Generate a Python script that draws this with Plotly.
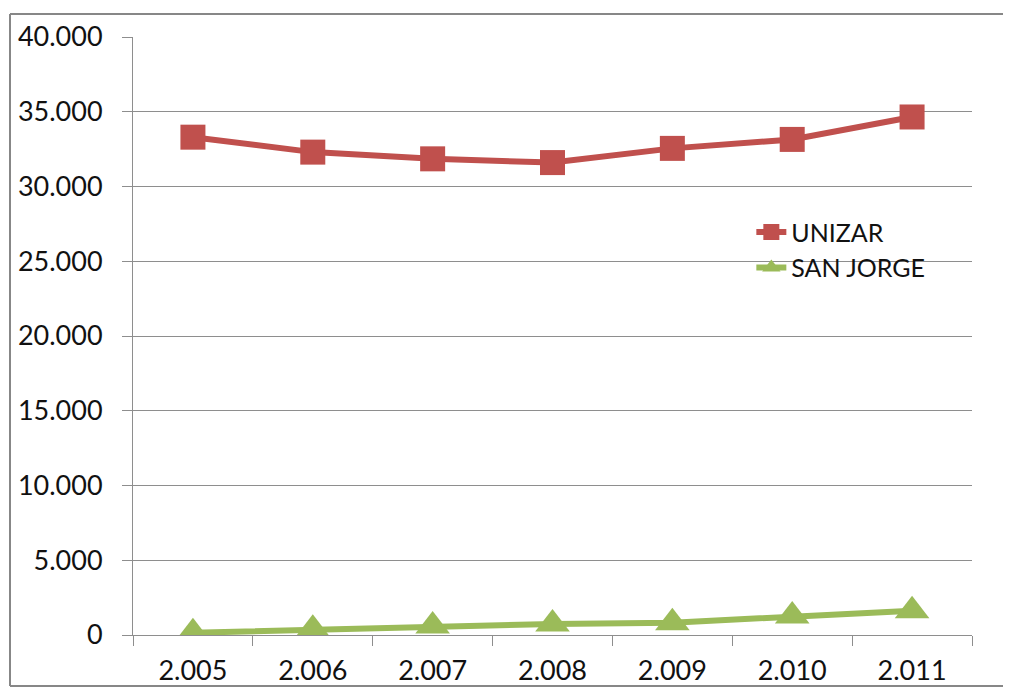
import plotly.graph_objects as go

years = ["2.005", "2.006", "2.007", "2.008", "2.009", "2.010", "2.011"]
unizar = [33300, 32300, 31850, 31600, 32550, 33150, 34650]
san_jorge = [150, 380, 600, 740, 820, 1270, 1630]
y_ticks = [0, 5000, 10000, 15000, 20000, 25000, 30000, 35000, 40000]

FONT = "Lato, 'Open Sans', sans-serif"
GRID = "#8e8e8e"
TXT = "#111111"

fig = go.Figure()
fig.add_trace(go.Scatter(
    x=years, y=unizar, name="UNIZAR", mode="lines+markers",
    line=dict(color="#C0504D", width=6),
    marker=dict(symbol="square", size=25, color="#C0504D"),
))
fig.add_trace(go.Scatter(
    x=years, y=san_jorge, name="SAN JORGE", mode="lines+markers",
    line=dict(color="#9BBB59", width=6),
    marker=dict(symbol="triangle-up", size=30, color="#9BBB59"),
))

# frame (top, left, bottom edges; right edge lies outside the picture)
fx0 = (10 - 133) / 839
fx1 = (1011 - 133) / 839
fy0 = (635 - 686) / 598
fy1 = (635 - 14) / 598
frame_line = dict(color="#878787", width=2)
shapes = [
    dict(type="line", xref="paper", yref="paper", x0=fx0, x1=fx1, y0=fy1, y1=fy1, line=frame_line, layer="below"),
    dict(type="line", xref="paper", yref="paper", x0=fx0, x1=fx0, y0=fy0, y1=fy1, line=frame_line, layer="below"),
    dict(type="line", xref="paper", yref="paper", x0=fx0, x1=fx1, y0=fy0, y1=fy0, line=frame_line, layer="below"),
]

fig.update_layout(
    width=1003, height=679,
    margin=dict(l=125, r=39, t=29, b=52, autoexpand=False),
    paper_bgcolor="white", plot_bgcolor="white",
    separators=",.",
    font=dict(family=FONT, size=27, color=TXT),
    showlegend=True,
    legend=dict(
        x=0.737, y=0.712, xanchor="left", yanchor="top",
        font=dict(family=FONT, size=25, color=TXT),
        bgcolor="rgba(0,0,0,0)", itemwidth=30,
    ),
    shapes=shapes,
)

fig.update_xaxes(
    type="category", tickson="boundaries", automargin=False,
    showgrid=False, showline=True, linecolor=GRID, linewidth=1,
    ticks="outside", ticklen=10, tickcolor=GRID, tickwidth=1,
    ticklabelstandoff=12,
    tickfont=dict(family=FONT, size=27, color=TXT),
    range=[-0.5, 6.5], zeroline=False,
)
fig.update_yaxes(
    range=[0, 40000], tickvals=y_ticks, tickformat=",", automargin=False,
    showgrid=True, gridcolor=GRID, gridwidth=1,
    showline=True, linecolor=GRID, linewidth=1,
    ticks="outside", ticklen=10, tickcolor=GRID, tickwidth=1,
    ticklabelstandoff=14,
    tickfont=dict(family=FONT, size=27, color=TXT),
    zeroline=False,
)

fig.write_html("out.html")
